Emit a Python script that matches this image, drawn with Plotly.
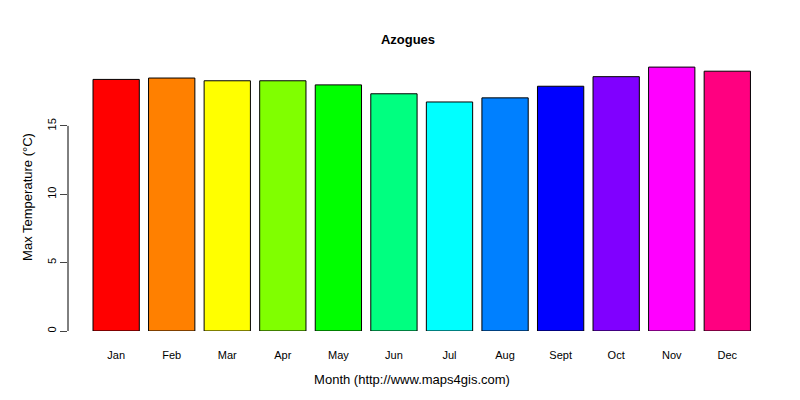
import plotly.graph_objects as go

months = ["Jan","Feb","Mar","Apr","May","Jun","Jul","Aug","Sept","Oct","Nov","Dec"]
values = [18.4, 18.5, 18.3, 18.3, 18.0, 17.35, 16.75, 17.05, 17.9, 18.6, 19.3, 19.0]
colors = ["#FF0000","#FF8000","#FFFF00","#80FF00","#00FF00","#00FF80",
          "#00FFFF","#0080FF","#0000FF","#8000FF","#FF00FF","#FF0080"]
yticks = [0, 5, 10, 15]

centers = [0.7 + 1.2*i for i in range(len(months))]
fig = go.Figure(go.Bar(x=centers, y=values, width=1.0, marker_color=colors,
                       marker_line=dict(color="black", width=1)))
fig.add_shape(type="line", xref="paper", yref="y", x0=0, x1=0, y0=0, y1=15,
              line=dict(color="black", width=1))
fig.update_layout(
    width=800, height=400, plot_bgcolor="white", paper_bgcolor="white",
    margin=dict(l=60, r=52, t=55, b=77), showlegend=False,
    font=dict(family="Liberation Sans, Arial", size=11, color="black"),
    title=dict(text="<b>Azogues</b>", x=0.5, xanchor="center", y=0.922, yanchor="middle",
               font=dict(size=13)),
    xaxis=dict(range=[-0.34, 14.52], tickvals=centers, ticktext=months, showline=False,
               showgrid=False, zeroline=False, ticks="outside", ticklen=14,
               tickcolor="rgba(0,0,0,0)", automargin=False,
               title=dict(text="Month (http://www.maps4gis.com)", standoff=14)),
    yaxis=dict(range=[0, 19.6], tickvals=yticks, showgrid=False, zeroline=False,
               showline=False, ticks="outside", ticklen=7, tickangle=-90, automargin=False,
               title=dict(text="Max Temperature (°C)", standoff=10)),
)
fig.write_html("out.html")
